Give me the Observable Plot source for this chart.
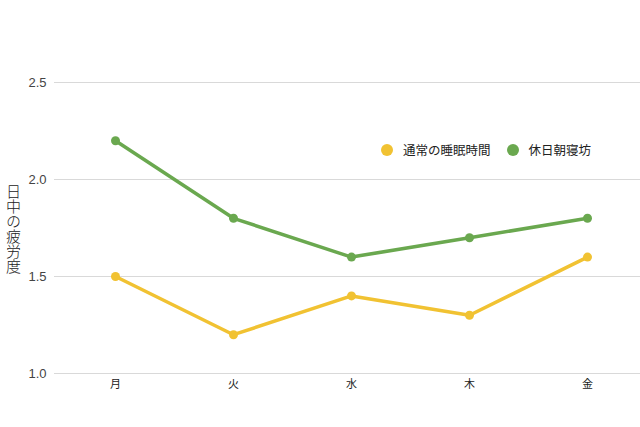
<!DOCTYPE html>
<html><head><meta charset="utf-8">
<script src="https://cdn.jsdelivr.net/npm/d3@7"></script>
<script src="https://cdn.jsdelivr.net/npm/@observablehq/plot@0.6"></script>
<style>
body{margin:0;background:#fff;font-family:"Liberation Sans","Noto Sans CJK JP",sans-serif;}
#wrap{position:relative;width:640px;height:427px;}
#ylab{position:absolute;left:3px;top:184px;writing-mode:vertical-rl;font-size:15px;color:#222;font-family:"Noto Sans CJK JP",sans-serif;font-weight:300;}
#legend{position:absolute;left:381px;top:140px;font-size:12.5px;color:#222;font-family:"Noto Sans CJK JP",sans-serif;display:flex;align-items:center;}
.sw{display:inline-block;width:12px;height:12px;border-radius:50%;margin-right:10px;}
.it{display:flex;align-items:center;margin-right:16px;}
</style></head><body>
<div id="wrap"><div id="chart"></div>
<div id="ylab">日中の疲労度</div>
<div id="legend"></div></div>
<script>
const days = ["月","火","水","木","金"];
const seriesNames = ["通常の睡眠時間","休日朝寝坊"];
const normalSleep = [1.5, 1.2, 1.4, 1.3, 1.6];
const weekendLate = [2.2, 1.8, 1.6, 1.7, 1.8];
const colors = ["#f1c232", "#6aa84f"];
const yTicks = [1.0, 1.5, 2.0, 2.5];

const data = [];
days.forEach((d,i)=>{
  data.push({day:d, v:weekendLate[i], s:seriesNames[1]});
});
days.forEach((d,i)=>{
  data.push({day:d, v:normalSleep[i], s:seriesNames[0]});
});

const chart = Plot.plot({
  width:640, height:427,
  marginTop:82, marginBottom:54, marginLeft:54, marginRight:0,
  style:{fontFamily:"'Liberation Sans','Noto Sans CJK JP',sans-serif", background:"#fff"},
  x:{type:"point", domain:days, range:[114,587], padding:0, label:null},
  y:{domain:[1,2.5], label:null},
  color:{domain:seriesNames, range:colors},
  marks:[
    Plot.gridY(yTicks, {stroke:"#d9d9d9", strokeOpacity:1, strokeWidth:1}),
    Plot.axisY(yTicks, {tickSize:0, tickPadding:8, tickFormat:d=>d.toFixed(1), fontSize:13, fill:"#444"}),
    Plot.axisX({tickSize:0, tickPadding:7, fontSize:11, fill:"#222", fontFamily:"'Noto Sans CJK JP',sans-serif"}),
    Plot.line(data, {x:"day", y:"v", z:"s", stroke:"s", strokeWidth:3.5}),
    Plot.dot(data, {x:"day", y:"v", fill:"s", r:4.5})
  ]
});
document.getElementById("chart").appendChild(chart);

const lg = document.getElementById("legend");
seriesNames.forEach((n,i)=>{
  const it = document.createElement("div"); it.className="it";
  const sw = document.createElement("span"); sw.className="sw"; sw.style.background=colors[i];
  it.appendChild(sw); it.appendChild(document.createTextNode(n));
  lg.appendChild(it);
});
</script></body></html>
